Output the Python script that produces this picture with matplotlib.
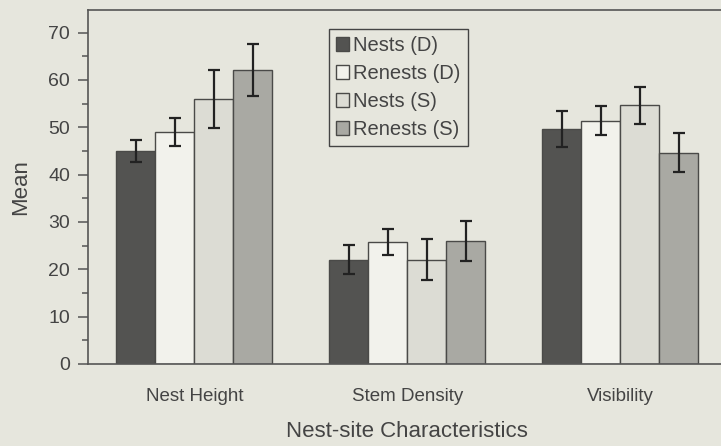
import matplotlib.pyplot as plt
import numpy as np
from matplotlib.ticker import MultipleLocator

plt.rcParams['font.family'] = ['Liberation Sans', 'DejaVu Sans']

categories = ["Nest Height", "Stem Density", "Visibility"]
series = ["Nests (D)", "Renests (D)", "Nests (S)", "Renests (S)"]
means = [
    [45, 22, 49.6],
    [49, 25.8, 51.4],
    [56, 22, 54.6],
    [62, 26, 44.6],
]
errors = [
    [2.4, 3.1, 3.8],
    [3.0, 2.8, 3.0],
    [6.1, 4.3, 4.0],
    [5.5, 4.2, 4.1],
]
colors = ["#535351", "#f2f2ec", "#dcdcd4", "#a9a9a3"]

bg = "#e6e6dd"
fig = plt.figure(figsize=(7.21, 4.46), dpi=100, facecolor=bg)
ax = fig.add_axes([0.122, 0.184, 0.886, 0.794])
ax.set_facecolor(bg)

x = np.arange(len(categories))
w = 0.183
for i in range(len(series)):
    ax.bar(x + (i - 1.5) * w, means[i], w, color=colors[i], edgecolor="#4a4a48",
           linewidth=1.0, label=series[i], zorder=2)
    ax.errorbar(x + (i - 1.5) * w, means[i], yerr=errors[i], fmt="none",
                ecolor="#222222", elinewidth=1.6, capsize=4, capthick=1.6, zorder=3)

ax.set_xlim(-0.5, 2.5)
ax.set_ylim(0, 74.8)
ax.yaxis.set_major_locator(MultipleLocator(10))
ax.yaxis.set_minor_locator(MultipleLocator(5))
ax.set_xticks(x)
ax.set_xticklabels(categories)

ax.spines["right"].set_visible(False)
for s in ["left", "bottom", "top"]:
    ax.spines[s].set_color("#555555")
    ax.spines[s].set_linewidth(1.2)

ax.tick_params(axis="x", length=0, pad=17, labelsize=13.5, labelcolor="#444444")
ax.tick_params(axis="y", which="major", length=7, width=1.1, color="#555555",
               pad=6, labelsize=14, labelcolor="#444444")
ax.tick_params(axis="y", which="minor", length=4, width=1.1, color="#555555")

ax.set_ylabel("Mean", fontsize=16, color="#444444", labelpad=12)
ax.set_xlabel("Nest-site Characteristics", fontsize=16, color="#444444", labelpad=12)

leg = ax.legend(loc="upper left", bbox_to_anchor=(329 / 721, 1 - 29 / 446),
                bbox_transform=fig.transFigure, fontsize=14.5, frameon=True,
                fancybox=False, edgecolor="#444444", facecolor=bg, framealpha=1,
                handlelength=0.65, handleheight=0.65, handletextpad=0.2,
                labelspacing=0.45, borderpad=0.35, borderaxespad=0)
leg.get_frame().set_linewidth(1.0)
for t in leg.get_texts():
    t.set_color("#444444")

fig.savefig("out.png", dpi=100, facecolor=bg)
